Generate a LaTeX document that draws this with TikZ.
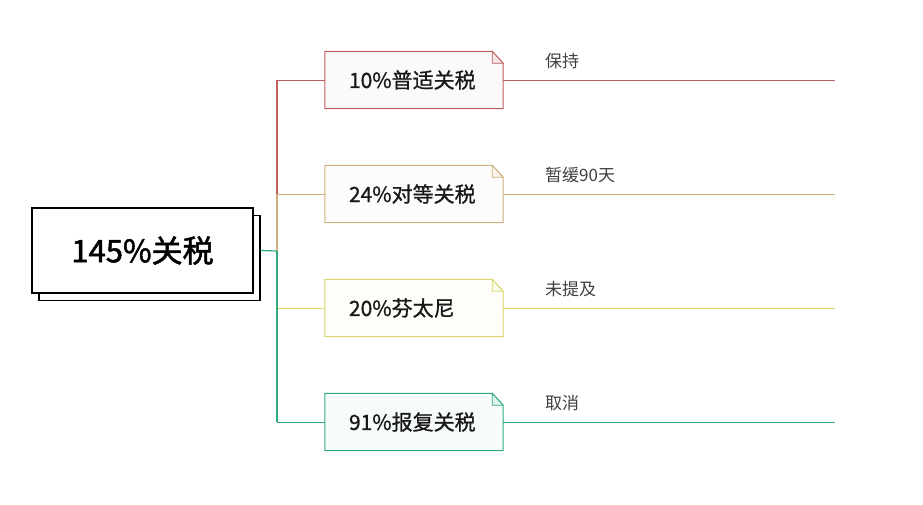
\documentclass[tikz,border=0pt]{standalone}
\usepackage{fontspec}
\setmainfont{Noto Sans CJK SC}
\newfontfamily\cuti[FakeBold=1]{Noto Sans CJK SC}
\newfontfamily\dacuti[FakeBold=1.6]{Noto Sans CJK SC}
\usetikzlibrary{calc}
\definecolor{hongse}{RGB}{190,95,95}
\definecolor{tuse}{RGB}{205,175,120}
\definecolor{huangse}{RGB}{218,214,105}
\definecolor{lvse}{RGB}{45,170,125}

\begin{document}
\begin{tikzpicture}[x=1pt,y=-1pt,
  zhuti/.style={draw=black,line width=1.2pt,fill=white,minimum width=221pt,minimum height=85pt,inner sep=0pt},
  fenzhi/.style={text width=130pt,inner xsep=24pt,inner ysep=0pt,minimum height=57pt,align=left,
    text=black!90,font=\cuti\fontsize{21}{21}\selectfont},
  biaoqian/.style={anchor=west,inner sep=0pt,text=black!75,font=\fontsize{17}{17}\selectfont}]
 \useasboundingbox (0,0) rectangle (923,504);
 \node[zhuti] (ying) at (149.5,258) {}; %阴影
 \node[zhuti,font=\dacuti\fontsize{31}{31}\selectfont] (zhu) at (142.5,250.5) {145\%关税}; %主框
 \coordinate (he) at (277,251); %汇合点

 \foreach \n/\y/\c/\t/\l in {a/80/hongse/10\%普适关税/保持,b/194/tuse/24\%对等关税/暂缓90天,
   c/308/huangse/20\%芬太尼/未提及,d/422/lvse/91\%报复关税/取消}{
   \node[fenzhi,fill=\c!4] (\n) at (414,\y) {\t}; %分支框
   \fill[white] ($(\n.north east)+(-11,-1)$) -- ($(\n.north east)+(1,-1)$) -- ($(\n.north east)+(1,12)$) -- cycle;
   \draw[\c,line width=1pt] (\n.north west) -- ($(\n.north east)+(-11,0)$)
     -- ($(\n.north east)+(0,12)$) -- (\n.south east) -- (\n.south west) -- cycle; %外框
   \draw[\c,line width=0.8pt,fill=\c!15] ($(\n.north east)+(-11,0)$) |- ($(\n.north east)+(0,12)$) -- cycle; %折角
   \coordinate (g\n) at (277,\y); %主干
   \coordinate (w\n) at (835,\y); %末端
   \draw[\c,line width=1pt] (g\n) -- (\n.west);
   \draw[\c,line width=1pt] (\n.east) -- (w\n);
   \node[biaoqian] (l\n) at (545,\y-19) {\l}; %说明
 }

 \draw[hongse,line width=1.2pt] (ga) -- (gb);
 \draw[tuse,line width=1.2pt] (gb) -- (he);
 \draw[lvse,line width=1.2pt] (he) -- (gd);
 \draw[lvse,line width=1.2pt] (zhu.east -| ying.east) -- (he);
\end{tikzpicture}
\end{document}
